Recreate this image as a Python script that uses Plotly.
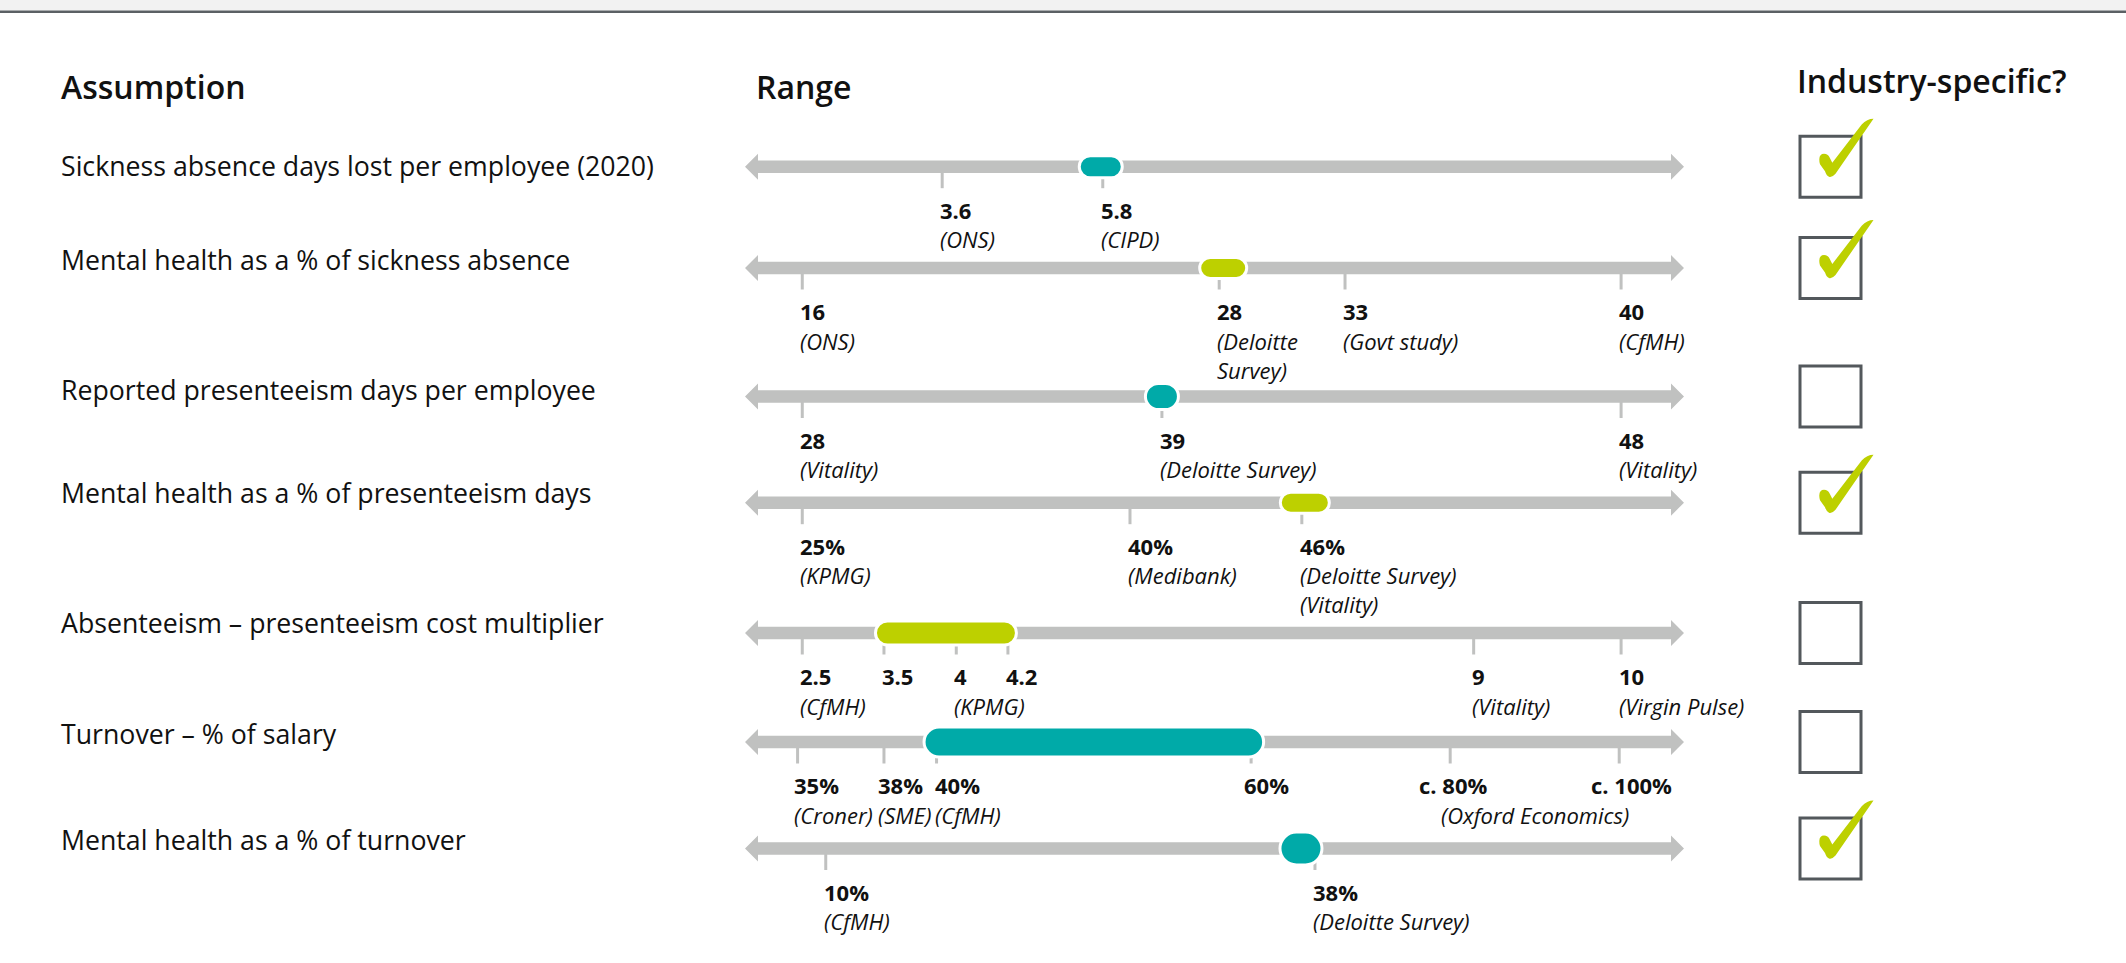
import plotly.graph_objects as go

# ---------------------------------------------------------------------------
# Data
# ---------------------------------------------------------------------------
ASSUMPTIONS = [
    "Sickness absence days lost per employee (2020)",
    "Mental health as a % of sickness absence",
    "Reported presenteeism days per employee",
    "Mental health as a % of presenteeism days",
    "Absenteeism – presenteeism cost multiplier",
    "Turnover – % of salary",
    "Mental health as a % of turnover",
]

TICK_VALUES = [
    ["3.6", "5.8"],
    ["16", "28", "33", "40"],
    ["28", "39", "48"],
    ["25%", "40%", "46%"],
    ["2.5", "3.5", "4", "4.2", "9", "10"],
    ["35%", "38%", "40%", "60%", "c. 80%", "c. 100%"],
    ["10%", "38%"],
]

TICK_SOURCES = [
    ["(ONS)", "(CIPD)"],
    ["(ONS)", "(Deloitte<br>Survey)", "(Govt study)", "(CfMH)"],
    ["(Vitality)", "(Deloitte Survey)", "(Vitality)"],
    ["(KPMG)", "(Medibank)", "(Deloitte Survey)<br>(Vitality)"],
    ["(CfMH)", "", "(KPMG)", "", "(Vitality)", "(Virgin Pulse)"],
    ["(Croner)", "(SME)", "(CfMH)", "", "", ""],
    ["(CfMH)", "(Deloitte Survey)"],
]
# a source shared by two neighbouring ticks: (row, first tick, last tick, text)
SHARED_SOURCES = [(5, 4, 5, "(Oxford Economics)")]

# highlighted estimate per row: (first tick index, last tick index)
HIGHLIGHT = [(1, 1), (1, 1), (1, 1), (2, 2), (1, 3), (2, 3), (1, 1)]
INDUSTRY_SPECIFIC = [True, True, False, True, False, False, True]

HEADERS = ["Assumption", "Range", "Industry-specific?"]

# ---------------------------------------------------------------------------
# Layout (pixels / track units) and styling
# ---------------------------------------------------------------------------
W, H = 2126, 963
TRACK_L, TRACK_R = 745, 1684           # arrow tips of the range track (px)
PXU = (TRACK_R - TRACK_L) / 100.0      # px per track unit

ROW_Y = [166.7, 268, 396.5, 502.7, 633, 742, 848.5]
LABEL_Y = [165, 259, 389, 492, 622, 733, 839]

# schematic position of each tick along the track (0 = left tip, 100 = right tip)
TICK_POS = [
    [21.0, 38.1],
    [6.1, 50.5, 63.9, 93.3],
    [6.1, 44.4, 93.3],
    [6.1, 41.0, 59.3],
    [6.1, 14.8, 22.5, 28.0, 77.6, 93.3],
    [5.6, 14.8, 20.4, 53.9, 75.1, 93.1],
    [8.6, 60.7],
]
# extra horizontal nudges (px) of individual tick labels
LABEL_DX = {(5, 0): -2, (5, 1): -4, (5, 3): -5, (5, 4): -29, (5, 5): -26}

TEAL = "#00aaa8"
LIME = "#bdd000"
HL_COLOR = [TEAL, LIME, TEAL, LIME, LIME, TEAL, TEAL]
# marker size (w, h) for single-point markers, (pad, h) for range bars, x shift px
HL_SIZE = [(40, 19), (44, 18), (30, 23), (46, 18), (7, 21), (11, 27), (39, 30)]
HL_DX = [-2, 4, 0, 3, 0, 0, -14]

TRACK_GREY = "#c0c1c0"
BOX_GREY = "#53585c"
TEXT = "#111111"
FONT = "Open Sans"
TICK_FONT = 22
VALUE_DY, SOURCE_DY = 43, 72

SHAFT_HALF = 6.3
HEAD_HALF = 13
HEAD_LEN = 13
TICK_LEN = 21.5

BOX_X = 1800
BOX_SIZE = 61


def u(px):
    """pixel length -> track units"""
    return px / PXU


def rounded_rect(x0, x1, y0, y1, r):
    """closed rounded-rectangle path; x in track units, y in pixels"""
    rx, ry = u(r), r
    k = 0.5523
    p = [
        f"M {x0 + rx},{y0}",
        f"L {x1 - rx},{y0}",
        f"C {x1 - rx + k * rx},{y0} {x1},{y0 + ry - k * ry} {x1},{y0 + ry}",
        f"L {x1},{y1 - ry}",
        f"C {x1},{y1 - ry + k * ry} {x1 - rx + k * rx},{y1} {x1 - rx},{y1}",
        f"L {x0 + rx},{y1}",
        f"C {x0 + rx - k * rx},{y1} {x0},{y1 - ry + k * ry} {x0},{y1 - ry}",
        f"L {x0},{y0 + ry}",
        f"C {x0},{y0 + ry - k * ry} {x0 + rx - k * rx},{y0} {x0 + rx},{y0}",
        "Z",
    ]
    return " ".join(p)


# tick mark glyph, offsets from the top-left corner of its box (px, y downwards)
CHECK_PATH = [
    ("M", [(19.3, 23)]),
    ("Q", [(19.5, 17.5), (24, 17.5)]),
    ("Q", [(28, 17.5), (29.5, 21)]),
    ("L", [(32.3, 26.5)]),
    ("L", [(61.7, -11.7)]),
    ("Q", [(67, -17.5), (73.5, -17.5)]),
    ("L", [(35.5, 37.5)]),
    ("Q", [(32, 41.5), (29, 40.5)]),
    ("Q", [(26.5, 39.5), (25, 35)]),
    ("L", [(20, 28)]),
    ("Q", [(19.2, 25.5), (19.3, 23)]),
]


def check_path(bx, by):
    parts = []
    for cmd, pts in CHECK_PATH:
        coords = " ".join(f"{(bx + dx) / W},{by + dy}" for dx, dy in pts)
        parts.append(f"{cmd} {coords}")
    return " ".join(parts) + " Z"


def tick_text(text, x, y, yanchor="top", xanchor="left", bold=False):
    font = dict(family=FONT, size=TICK_FONT, color=TEXT)
    if bold:
        font["weight"] = 700
    else:
        font["style"] = "italic"
    return dict(text=text, x=x, y=y, xref="x", yref="y", xanchor=xanchor,
                yanchor=yanchor, align=xanchor if xanchor != "center" else "center",
                showarrow=False, borderpad=0, borderwidth=0, font=font)


shapes = []
annotations = []

# page header band
shapes.append(dict(type="rect", xref="paper", yref="y", x0=0, x1=1, y0=0, y1=10.5,
                   fillcolor="#f2f2f2", line=dict(width=0), layer="above"))
shapes.append(dict(type="line", xref="paper", yref="y", x0=0, x1=1, y0=11.8, y1=11.8,
                   line=dict(color="#5b6064", width=2.6)))

# column headers
for text, hx, hy in zip(HEADERS, [59, 754, 1795], [86, 86, 80]):
    annotations.append(dict(text=text, x=hx / W, y=hy, xref="paper", yref="y",
                            xanchor="left", yanchor="middle", showarrow=False,
                            font=dict(family=FONT, size=32, color=TEXT, weight=600)))

hx_head = u(HEAD_LEN)
for i, label in enumerate(ASSUMPTIONS):
    yc = ROW_Y[i]

    # assumption label
    annotations.append(dict(text=label, x=59 / W, y=LABEL_Y[i], xref="paper", yref="y",
                            xanchor="left", yanchor="middle", showarrow=False,
                            font=dict(family=FONT, size=26.7, color=TEXT)))

    # tick marks below the track
    for pos in TICK_POS[i]:
        shapes.append(dict(type="line", xref="x", yref="y", x0=pos, x1=pos,
                           y0=yc, y1=yc + TICK_LEN,
                           line=dict(color=TRACK_GREY, width=3)))

    # double-headed track
    track = (
        f"M 0,{yc} L {hx_head},{yc - HEAD_HALF} L {hx_head},{yc - SHAFT_HALF} "
        f"L {100 - hx_head},{yc - SHAFT_HALF} L {100 - hx_head},{yc - HEAD_HALF} "
        f"L 100,{yc} L {100 - hx_head},{yc + HEAD_HALF} L {100 - hx_head},{yc + SHAFT_HALF} "
        f"L {hx_head},{yc + SHAFT_HALF} L {hx_head},{yc + HEAD_HALF} Z"
    )
    shapes.append(dict(type="path", xref="x", yref="y", path=track,
                       fillcolor=TRACK_GREY, line=dict(width=0)))

    # highlighted estimate / range
    lo, hi = HIGHLIGHT[i]
    a, h = HL_SIZE[i]
    dx = u(HL_DX[i])
    if lo == hi:
        xc = TICK_POS[i][lo] + dx
        x0, x1 = xc - u(a / 2 + 1.5), xc + u(a / 2 + 1.5)
        r = min(a, h) / 2 + 1.5
    else:
        x0 = TICK_POS[i][lo] - u(a + 1.5) + dx
        x1 = TICK_POS[i][hi] + u(a + 1.5) + dx
        r = h / 2 + 1.5
    shapes.append(dict(type="path", xref="x", yref="y",
                       path=rounded_rect(x0, x1, yc - h / 2 - 1.5, yc + h / 2 + 1.5, r),
                       fillcolor=HL_COLOR[i], line=dict(color="white", width=3)))

    # tick values and sources
    for j, (val, src) in enumerate(zip(TICK_VALUES[i], TICK_SOURCES[i])):
        xt = TICK_POS[i][j] + u(LABEL_DX.get((i, j), 0) - 2)
        annotations.append(tick_text(val, xt, yc + VALUE_DY, yanchor="middle", bold=True))
        if src:
            annotations.append(tick_text(src, xt, yc + SOURCE_DY - 14.3))

    # industry-specific checkbox
    by = yc - BOX_SIZE / 2
    shapes.append(dict(type="rect", xref="paper", yref="y",
                       x0=BOX_X / W, x1=(BOX_X + BOX_SIZE) / W, y0=by, y1=by + BOX_SIZE,
                       fillcolor="rgba(0,0,0,0)", line=dict(color=BOX_GREY, width=3)))
    if INDUSTRY_SPECIFIC[i]:
        shapes.append(dict(type="path", xref="paper", yref="y", path=check_path(BOX_X, by),
                           fillcolor=LIME, line=dict(width=0)))

for row, j0, j1, text in SHARED_SOURCES:
    xm = (TICK_POS[row][j0] + TICK_POS[row][j1]) / 2
    annotations.append(tick_text(text, xm, ROW_Y[row] + SOURCE_DY - 14.3, xanchor="center"))

fig = go.Figure(go.Scatter(x=[], y=[], xaxis="x", yaxis="y", hoverinfo="skip"))
fig.update_layout(
    width=W, height=H,
    margin=dict(l=0, r=0, t=0, b=0),
    paper_bgcolor="white", plot_bgcolor="white",
    showlegend=False,
    xaxis=dict(domain=[TRACK_L / W, TRACK_R / W], range=[0, 100], visible=False,
               fixedrange=True),
    yaxis=dict(domain=[0, 1], range=[H, 0], visible=False, fixedrange=True),
    shapes=shapes,
    annotations=annotations,
)

fig.write_html("out.html")
